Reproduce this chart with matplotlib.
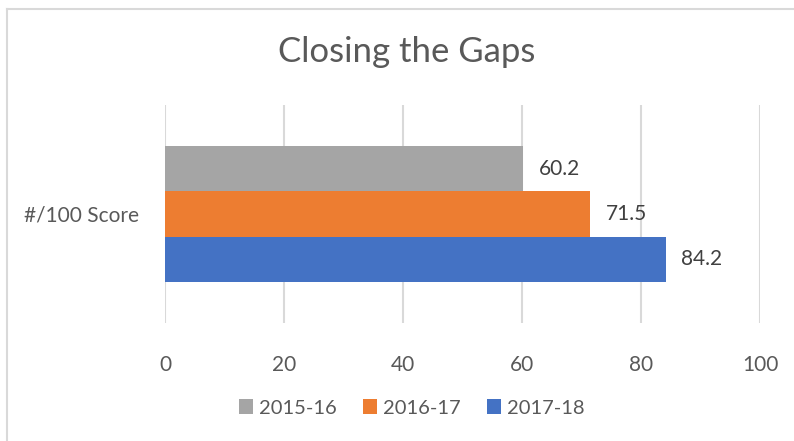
import matplotlib
matplotlib.use("Agg")
import matplotlib.pyplot as plt
from matplotlib.lines import Line2D

# data
categories = ["#/100 Score"]
series_names = ["2015-16", "2016-17", "2017-18"]
scores_2015 = [60.2]
scores_2016 = [71.5]
scores_2017 = [84.2]
x_ticks = [0, 20, 40, 60, 80, 100]

colors = ["#A5A5A5", "#ED7D31", "#4472C4"]
text_col = "#595959"

plt.rcParams['font.family'] = ['Lato', 'DejaVu Sans']

fig = plt.figure(figsize=(7.94, 4.41), dpi=100)
ax = fig.add_axes([165 / 794, 1 - 323 / 441, 595 / 794, 218 / 441])

h = 0.208  # bar height (gap width ~60%)
offsets = [h, 0, -h]  # first series on top
pos = list(range(len(categories)))
for name, vals, off, c in zip(series_names, [scores_2015, scores_2016, scores_2017], offsets, colors):
    bars = ax.barh([p + off for p in pos], vals, height=h, color=c, label=name, zorder=3)
    ax.bar_label(bars, labels=["%.1f" % v for v in vals], padding=11,
                 fontsize=15, color="#404040")

ax.set_xlim(0, 100)
ax.set_ylim(-0.5, 0.5)
ax.set_xticks(x_ticks)
ax.set_yticks(pos)
ax.set_yticklabels(categories)
ax.tick_params(axis='x', length=0, pad=23, labelsize=15, labelcolor=text_col)
ax.tick_params(axis='y', length=0, pad=19, labelsize=15, labelcolor=text_col)
ax.grid(axis='x', color="#D9D9D9", linewidth=1.5, zorder=0)
for s in ax.spines.values():
    s.set_visible(False)

fig.text(407 / 794, 1 - 52 / 441, "Closing the Gaps", ha='center', va='center',
         fontsize=25, color=text_col)

ax.legend(loc='center', bbox_to_anchor=(412 / 794, 1 - 408 / 441),
          bbox_transform=fig.transFigure, ncol=3, frameon=False,
          fontsize=14.5, labelcolor=text_col, handlelength=0.7, handleheight=0.7,
          handletextpad=0.3, columnspacing=1.3)

# chart border (only left and top visible in the crop)
fig.add_artist(Line2D([7 / 794, 7 / 794], [0, 1 - 9 / 441], transform=fig.transFigure,
                      color="#D9D9D9", linewidth=1.5))
fig.add_artist(Line2D([7 / 794, 1], [1 - 9 / 441, 1 - 9 / 441], transform=fig.transFigure,
                      color="#D9D9D9", linewidth=1.5))

fig.savefig("out.png", dpi=100)
